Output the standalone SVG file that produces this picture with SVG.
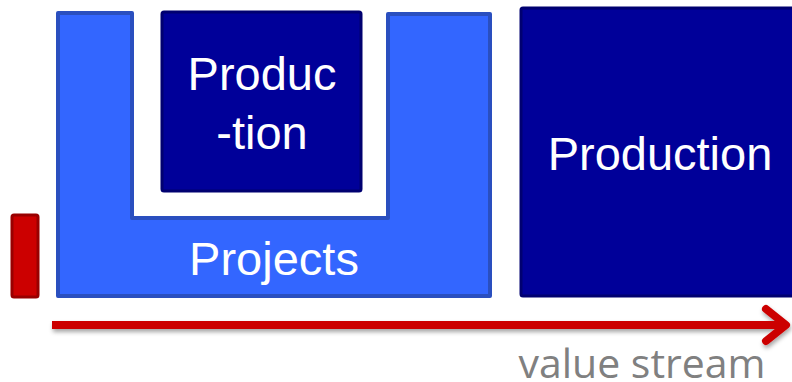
<svg xmlns="http://www.w3.org/2000/svg" width="792" height="382" viewBox="0 0 792 382">
<style>
.lbl{font-family:"Liberation Sans",Arial,sans-serif;font-size:47px;fill:#ffffff;text-anchor:middle}
.dark{fill:#000099;stroke:#000070;stroke-width:3}
</style>
<defs>
<filter id="sh" x="-5%" y="-50%" width="110%" height="250%">
<feDropShadow dx="1" dy="3" stdDeviation="2" flood-color="#000" flood-opacity="0.35"/>
</filter>
</defs>
<rect width="792" height="382" fill="#ffffff"/>
<g id="projects">
<path d="M58,13 H132 V218 H388 V14 H490 V296 H58 Z" fill="#3366ff" stroke="#2a4fbf" stroke-width="4" stroke-linejoin="round"/>
<text class="lbl" x="274" y="275">Projects</text>
</g>
<g id="production-small">
<rect class="dark" x="162" y="12" width="199" height="179" rx="2"/>
<text class="lbl" x="262" y="90">Produc</text>
<text class="lbl" x="262" y="149">-tion</text>
</g>
<g id="production-big">
<rect class="dark" x="521" y="8" width="290" height="288" rx="2"/>
<text class="lbl" x="660" y="170">Production</text>
</g>
<g id="marker-bar">
<rect x="12" y="215" width="26" height="82" rx="2" fill="#cc0000" stroke="#990000" stroke-width="3"/>
</g>
<g id="connectors" filter="url(#sh)">
<line x1="52" y1="325" x2="784" y2="325" stroke="#cc0000" stroke-width="8"/>
<polyline points="766,309 786,325 766,341" fill="none" stroke="#cc0000" stroke-width="8" stroke-linecap="round" stroke-linejoin="round"/>
</g>
<text x="642" y="378" font-family="'Open Sans',sans-serif" font-size="41" fill="#808080" text-anchor="middle">value stream</text>
</svg>
